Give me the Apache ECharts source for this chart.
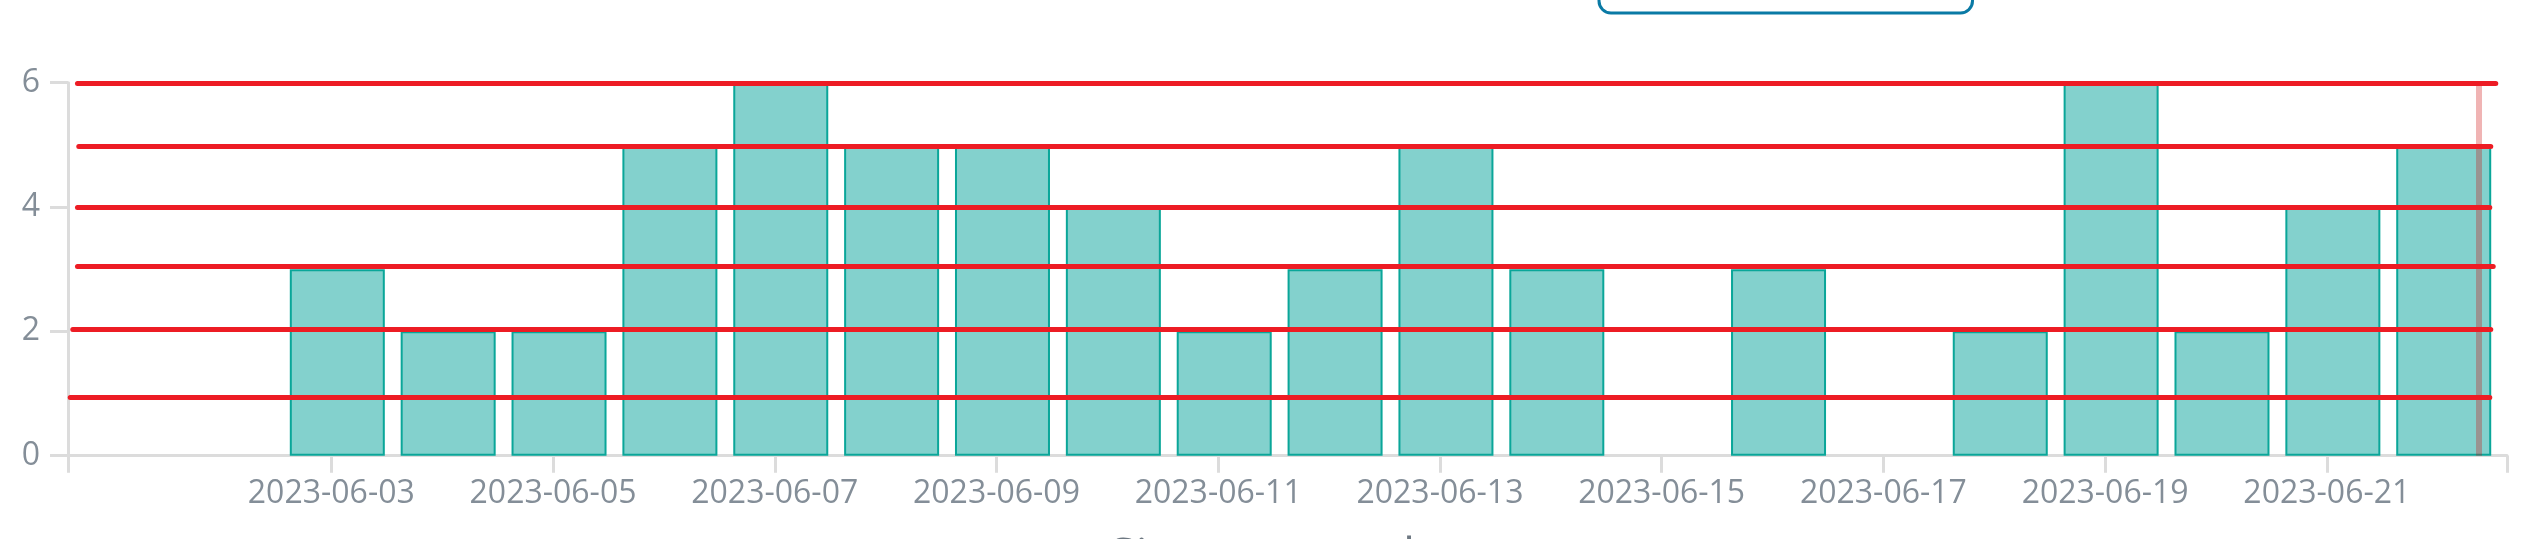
<!DOCTYPE html>
<html><head><meta charset="utf-8">
<script src="https://cdn.jsdelivr.net/npm/echarts@6/dist/echarts.min.js"></script>
<style>html,body{margin:0;padding:0;background:#fff;overflow:hidden}#chart{width:2521px;height:539px}</style>
</head><body><div id="chart"></div>
<script>
// ---- data ----
const dates = ['2023-06-03','2023-06-04','2023-06-05','2023-06-06','2023-06-07','2023-06-08','2023-06-09','2023-06-10','2023-06-11','2023-06-12','2023-06-13','2023-06-14','2023-06-15','2023-06-16','2023-06-17','2023-06-18','2023-06-19','2023-06-20','2023-06-21','2023-06-22'];
const counts = [3,2,2,5,6,5,5,4,2,3,5,3,null,3,null,2,6,2,4,5];
const xTickLabels = ['2023-06-03','2023-06-05','2023-06-07','2023-06-09','2023-06-11','2023-06-13','2023-06-15','2023-06-17','2023-06-19','2023-06-21'];
const yTicks = [0,2,4,6];
const refLevels = [5.99,4.98,4.0,3.05,2.03,0.94];
const refStarts = ['2023-05-31T17:03','2023-05-31T17:20','2023-05-31T17:03','2023-05-31T17:03','2023-05-31T16:02','2023-05-31T15:29'];
const refEnds = ['2023-06-22T12:34','2023-06-22T11:29','2023-06-22T11:16','2023-06-22T12:01','2023-06-22T11:29','2023-06-22T11:16'];
const nowMarker = '2023-06-22T08:56';
const nowMarkerTop = 5.96;
const axisStart = '2023-05-31T15:00';
const axisEnd = '2023-06-22T15:00';
const axisName = 'Signups per day';

// ---- helpers ----
const toTime = s => new Date(s.length === 10 ? s + 'T00:00:00' : s + ':00').getTime();
const barTimeOffset = 78 * 60 * 1000;
const pad = n => (n < 10 ? '0' : '') + n;
const fmt = v => { const d = new Date(v); return d.getFullYear() + '-' + pad(d.getMonth() + 1) + '-' + pad(d.getDate()); };

const xMin = toTime(axisStart), xMax = toTime(axisEnd);
const labelTimes = xTickLabels.map(toTime);
const barData = dates.map((d, i) => [toTime(d) + barTimeOffset, counts[i]]);

const AXIS_C = '#dcdcdc', LABEL_C = '#848e98', FONT = 'Open Sans';

const markData = [[
  { coord: [toTime(nowMarker), nowMarkerTop], lineStyle: { color: 'rgba(205,5,5,0.3)', width: 6, type: 'solid', cap: 'butt' } },
  { coord: [toTime(nowMarker), 0] }
]].concat(refLevels.map((lv, i) => [
  { coord: [toTime(refStarts[i]), lv], lineStyle: { color: '#ed1c24', width: 5, type: 'solid', cap: 'round' } },
  { coord: [toTime(refEnds[i]), lv] }
]));

const chart = echarts.init(document.getElementById('chart'), null, { renderer: 'canvas' });
chart.setOption({
  animation: false,
  backgroundColor: '#ffffff',
  textStyle: { fontFamily: FONT },
  grid: { left: 68, right: 14, top: 82.7, bottom: 83.3, containLabel: false, outerBoundsMode: 'none' },
  graphic: [{
    type: 'rect', silent: true, z: 10,
    shape: { x: 1599, y: -60, width: 373.5, height: 73, r: 12 },
    style: { fill: '#ffffff', stroke: '#0a7aa5', lineWidth: 3 }
  }],
  xAxis: {
    type: 'value', min: xMin, max: xMax, scale: true,
    name: axisName, nameLocation: 'middle', nameGap: 79,
    nameTextStyle: { fontSize: 48, color: '#6e7882', fontFamily: FONT },
    axisLine: { show: true, onZero: false, lineStyle: { color: AXIS_C, width: 3 } },
    axisTick: { show: true, length: 17, lineStyle: { color: AXIS_C, width: 3 }, customValues: [xMin].concat(labelTimes, [xMax]) },
    axisLabel: { show: true, customValues: labelTimes, formatter: v => fmt(v), fontSize: 32, color: LABEL_C, fontFamily: FONT, margin: 22 },
    splitLine: { show: false }
  },
  yAxis: {
    type: 'value', min: yTicks[0], max: yTicks[yTicks.length - 1], interval: 2,
    axisLine: { show: true, lineStyle: { color: AXIS_C, width: 3 } },
    axisTick: { show: true, length: 18, lineStyle: { color: AXIS_C, width: 3 } },
    axisLabel: { fontSize: 32, color: LABEL_C, fontFamily: FONT, margin: 28 },
    splitLine: { show: false }
  },
  series: [{
    type: 'bar',
    data: barData,
    barWidth: 95,
    itemStyle: { color: '#83d1cd', borderColor: '#0aa699', borderWidth: 2 },
    emphasis: { disabled: true },
    markLine: {
      silent: true, animation: false,
      symbol: ['none', 'none'],
      label: { show: false },
      emphasis: { disabled: true },
      data: markData
    }
  }]
});
</script></body></html>
